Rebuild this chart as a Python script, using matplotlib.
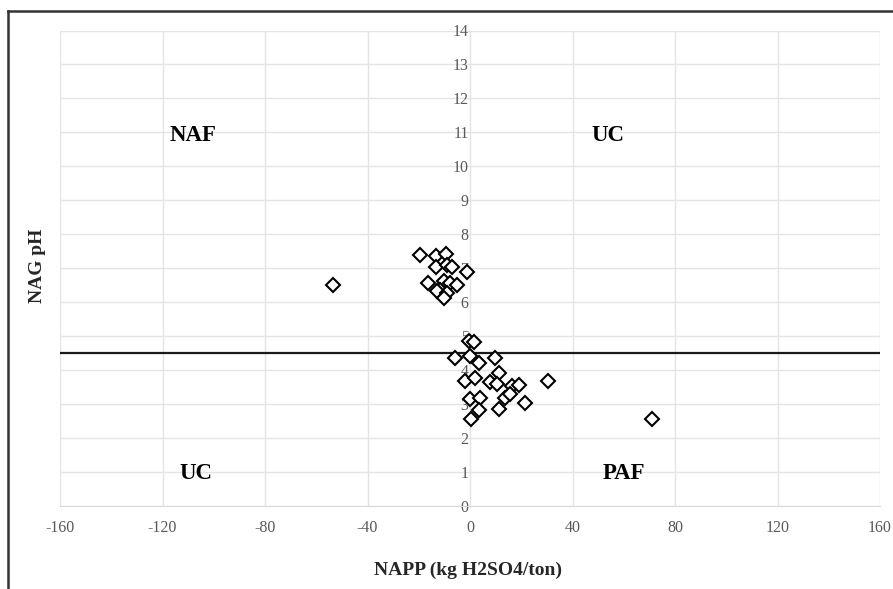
import matplotlib
matplotlib.use("Agg")
import matplotlib.pyplot as plt
from matplotlib.lines import Line2D

# Data
napp = [-19.7, -13.2, -9.3, -13.2, -9.0, -7.0, -1.2, -16.2, -10.3, -7.7, -5.1,
        -11.6, -12.9, -9.0, -10.3, -53.6,
        -0.5, 1.4, -6.0, 0.1, 3.4, 9.7, -1.8, 2.1, 7.9, 11.5, 10.6, 16.4, 19.1,
        30.5, 0.1, 4.0, 13.8, 15.8, 21.6, 11.2, 3.4, 0.5, 71.2]
nag_ph = [7.40, 7.37, 7.43, 7.05, 7.10, 7.05, 6.88, 6.58, 6.61, 6.57, 6.52,
          6.37, 6.32, 6.27, 6.13, 6.52,
          4.85, 4.82, 4.36, 4.41, 4.22, 4.36, 3.68, 3.78, 3.65, 3.92, 3.58, 3.53, 3.55,
          3.68, 3.16, 3.19, 3.19, 3.29, 3.04, 2.87, 2.82, 2.57, 2.55]
threshold_ph = 4.5
x_ticks = [-160, -120, -80, -40, 0, 40, 80, 120, 160]
y_ticks = list(range(0, 15))
zone_labels = ["NAF", "UC", "UC", "PAF"]
zone_x = [-108, 54, -107, 60]
zone_y = [10.9, 10.9, 0.97, 0.97]

serif = ["Liberation Serif", "DejaVu Serif"]

fig = plt.figure(figsize=(8.93, 5.89), dpi=100)
ax = fig.add_axes([60 / 893, 1 - 506 / 589, 820 / 893, 475.5 / 589])

for s in ["top", "right"]:
    ax.spines[s].set_visible(False)
ax.spines["left"].set_position(("data", 0))
ax.spines["left"].set_visible(False)
ax.spines["bottom"].set_color("#d9d9d9")

ax.set_xlim(-160, 160)
ax.set_ylim(0, 14)
ax.set_xticks(x_ticks)
ax.set_yticks(y_ticks)
ax.set_xticklabels([str(v) for v in x_ticks], fontfamily=serif, fontsize=11.5, color="#595959")
ax.set_yticklabels([str(v) for v in y_ticks], fontfamily=serif, fontsize=11.5, color="#595959")
ax.tick_params(axis="both", length=0)
ax.tick_params(axis="x", pad=10)
ax.tick_params(axis="y", pad=1)

ax.grid(True, color="#e4e4e4", linewidth=1.0)
ax.set_axisbelow(True)

ax.axhline(threshold_ph, color="#1a1a1a", linewidth=1.6, zorder=2)

ax.plot(napp, nag_ph, linestyle="none", marker="D", markersize=7.5,
        markerfacecolor="white", markeredgecolor="black", markeredgewidth=1.5, zorder=3)

for lab, x, y in zip(zone_labels, zone_x, zone_y):
    ax.text(x, y, lab, ha="center", va="center", fontfamily=serif,
            fontweight="bold", fontsize=16.5, color="black")

fig.text(468 / 893, 1 - 570 / 589, "NAPP (kg H2SO4/ton)", ha="center", va="center",
         fontfamily=serif, fontweight="bold", fontsize=14, color="#262626")
fig.text(38 / 893, 1 - 266 / 589, "NAG pH", ha="center", va="center", rotation=90,
         fontfamily=serif, fontweight="bold", fontsize=14, color="#262626")

# outer frame (top and left edges visible in reference)
fig.add_artist(Line2D([8 / 893, 1], [1 - 11 / 589, 1 - 11 / 589], transform=fig.transFigure,
                      color="#333333", linewidth=1.8))
fig.add_artist(Line2D([8 / 893, 8 / 893], [0, 1 - 11 / 589], transform=fig.transFigure,
                      color="#333333", linewidth=1.8))

fig.savefig("out.png", dpi=100)
